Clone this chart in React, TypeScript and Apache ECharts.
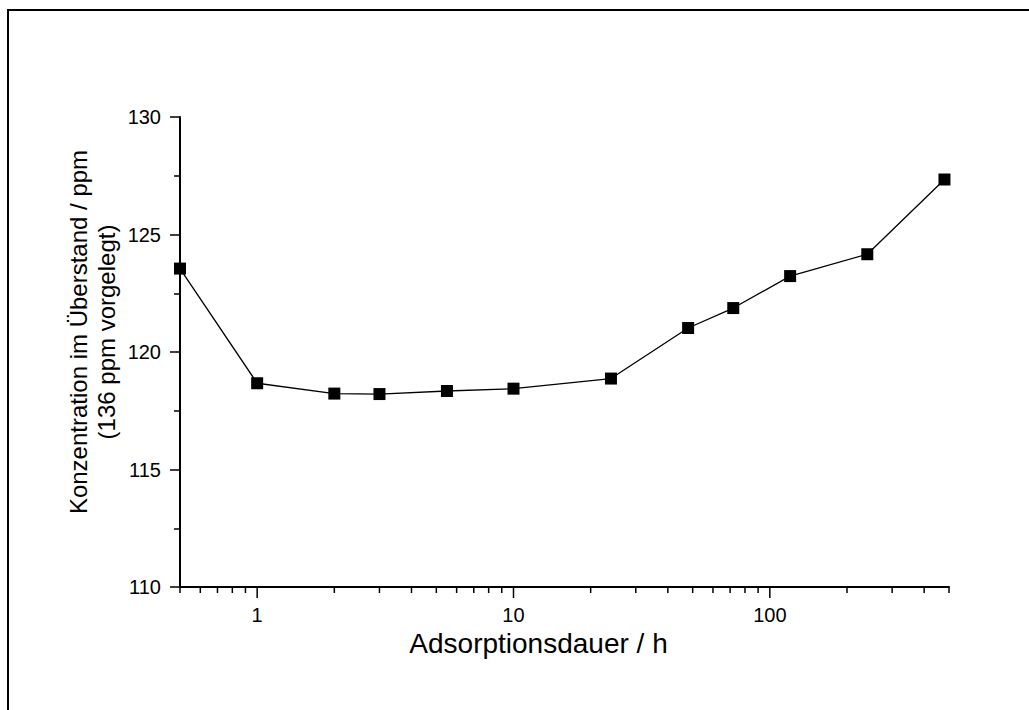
import React, { useEffect, useRef } from "react";
import * as echarts from "echarts";

// Data
const durationHours = [0.5, 1, 2, 3, 5.5, 10, 24, 48, 72, 120, 240, 480];
const concentrationPpm = [123.55, 118.67, 118.23, 118.21, 118.34, 118.44, 118.87, 121.02, 121.87, 123.23, 124.16, 127.34];

// Axis definitions
const xMin = 0.5;
const xMax = 500;
const yMin = 110;
const yMax = 130;
const yInterval = 5;
const xMajorTicks = [1, 10, 100];
const xMinorTicks = [0.5, 0.6, 0.7, 0.8, 0.9, 2, 3, 4, 5, 6, 7, 8, 9, 20, 30, 40, 50, 60, 70, 80, 90, 200, 300, 400, 500];

const xTitle = "Adsorptionsdauer / h";
const yTitleLines = ["Konzentration im Überstand / ppm", "(136 ppm vorgelegt)"];

const FONT = "'Liberation Sans', Arial, sans-serif";

export default function App() {
  const ref = useRef<HTMLDivElement>(null);

  useEffect(() => {
    if (!ref.current) return;
    const chart = echarts.init(ref.current, null, { renderer: "svg" });

    const seriesData = durationHours.map((x, i) => [x, concentrationPpm[i]]);

    const tickRenderer = (len: number, withLabel: boolean) => (params: any, api: any) => {
      const v = api.value(0);
      const p = api.coord([v, api.value(1)]);
      const children: any[] = [
        {
          type: "line",
          shape: { x1: p[0], y1: p[1], x2: p[0], y2: p[1] + len },
          style: { stroke: "#000", lineWidth: 1.5 },
        },
      ];
      if (withLabel) {
        children.push({
          type: "text",
          x: p[0],
          y: p[1] + 28,
          style: {
            text: String(v),
            fill: "#000",
            fontSize: 20,
            fontFamily: FONT,
            align: "center",
            verticalAlign: "middle",
          },
        });
      }
      return { type: "group", children };
    };

    chart.setOption({
      animation: false,
      backgroundColor: "#fff",
      grid: { left: 180, right: 80, top: 117, bottom: 123, containLabel: false },
      xAxis: {
        type: "log",
        logBase: 10,
        min: xMin,
        max: xMax,
        axisLine: { show: true, lineStyle: { color: "#000", width: 2 } },
        axisTick: { show: false },
        axisLabel: { show: false },
        splitLine: { show: false },
        minorTick: { show: false },
      },
      yAxis: {
        type: "value",
        min: yMin,
        max: yMax,
        interval: yInterval,
        axisLine: { show: true, lineStyle: { color: "#000", width: 2 } },
        axisTick: { show: true, inside: false, length: 10, lineStyle: { color: "#000", width: 1.5 } },
        minorTick: { show: true, splitNumber: 2, length: 6, lineStyle: { color: "#000", width: 1.5 } },
        axisLabel: { color: "#000", fontSize: 20, fontFamily: FONT, margin: 19 },
        splitLine: { show: false },
      },
      graphic: [
        {
          type: "rect",
          silent: true,
          shape: { x: 8, y: 10, width: 1200, height: 900 },
          style: { fill: "none", stroke: "#000", lineWidth: 2 },
        },
        {
          type: "text",
          silent: true,
          x: 538.5,
          y: 643.5,
          style: {
            text: xTitle,
            fill: "#000",
            fontSize: 28,
            fontFamily: FONT,
            align: "center",
            verticalAlign: "middle",
          },
        },
        {
          type: "text",
          silent: true,
          x: 92.5,
          y: 332,
          rotation: Math.PI / 2,
          style: {
            text: yTitleLines.join("\n"),
            fill: "#000",
            fontSize: 24,
            lineHeight: 28,
            fontFamily: FONT,
            align: "center",
            verticalAlign: "middle",
          },
        },
      ],
      series: [
        {
          type: "line",
          data: seriesData,
          symbol: "rect",
          symbolSize: 12,
          itemStyle: { color: "#000" },
          lineStyle: { color: "#000", width: 1.3 },
          clip: false,
          z: 3,
        },
        {
          type: "custom",
          silent: true,
          clip: false,
          data: xMajorTicks.map((v) => [v, yMin]),
          renderItem: tickRenderer(11, true),
          z: 4,
        },
        {
          type: "custom",
          silent: true,
          clip: false,
          data: xMinorTicks.map((v) => [v, yMin]),
          renderItem: tickRenderer(6, false),
          z: 4,
        },
      ],
    });

    return () => chart.dispose();
  }, []);

  return (
    <div
      ref={ref}
      style={{ position: "fixed", left: 0, top: 0, width: 1029, height: 710, background: "#fff" }}
    />
  );
}
